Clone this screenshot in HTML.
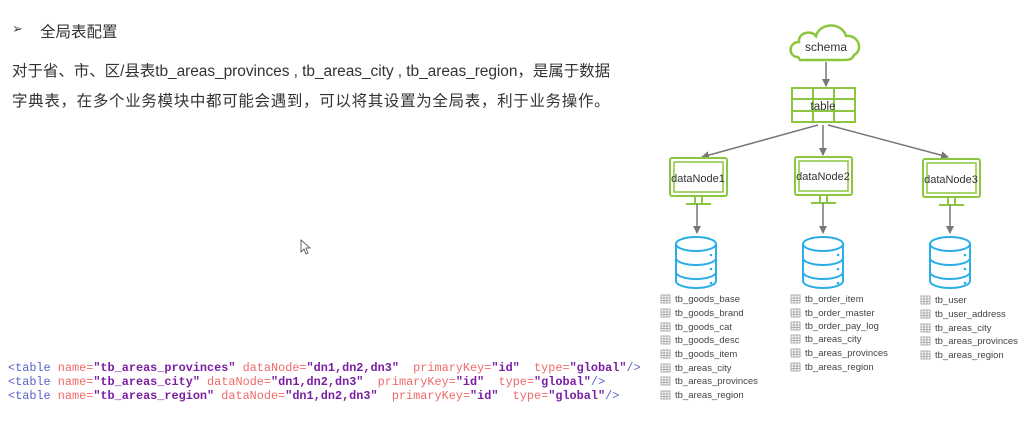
<!DOCTYPE html>
<html><head><meta charset="utf-8"><style>
body{margin:0;background:#fff;width:1024px;height:428px;overflow:hidden;position:relative;font-family:"Liberation Sans","Noto Sans CJK SC",sans-serif;color:#333}
.t{position:absolute;white-space:nowrap}
.code{position:absolute;left:8px;font-family:"Liberation Mono",monospace;font-size:11.85px;white-space:pre;color:#f06a6a}
.b{color:#5a63c8}.p{color:#7a1fa2;font-weight:bold}
</style></head><body>
<div class="t" style="left:12px;top:21px;font-size:13px;color:#444">➢</div>
<div class="t" style="left:40px;top:20px;font-size:15.5px">全局表配置</div>
<div class="t" style="left:12px;top:59px;font-size:15.5px;letter-spacing:-0.06px">对于省、市、区/县表tb_areas_provinces , tb_areas_city , tb_areas_region，是属于数据</div>
<div class="t" style="left:12px;top:89px;font-size:15.5px;letter-spacing:0.67px">字典表，在多个业务模块中都可能会遇到，可以将其设置为全局表，利于业务操作。</div>
<div class="code" style="top:361px"><span class="b">&lt;table</span> name=<span class="p">"tb_areas_provinces"</span> dataNode=<span class="p">"dn1,dn2,dn3"</span>  primaryKey=<span class="p">"id"</span>  type=<span class="p">"global"</span><span class="b">/&gt;</span></div>
<div class="code" style="top:375px"><span class="b">&lt;table</span> name=<span class="p">"tb_areas_city"</span> dataNode=<span class="p">"dn1,dn2,dn3"</span>  primaryKey=<span class="p">"id"</span>  type=<span class="p">"global"</span><span class="b">/&gt;</span></div>
<div class="code" style="top:389px"><span class="b">&lt;table</span> name=<span class="p">"tb_areas_region"</span> dataNode=<span class="p">"dn1,dn2,dn3"</span>  primaryKey=<span class="p">"id"</span>  type=<span class="p">"global"</span><span class="b">/&gt;</span></div>
<svg width="1024" height="428" style="position:absolute;left:0;top:0" font-family="Liberation Sans,sans-serif">
<defs>
<marker id="a" markerWidth="8" markerHeight="8" refX="7" refY="4" orient="auto" markerUnits="userSpaceOnUse"><path d="M0,0L8,4L0,8z" fill="#777"/></marker>
<g id="mon"><rect x="0" y="0" width="57" height="38" rx="2" fill="#fff" stroke="#8cc63f" stroke-width="2"/><rect x="4" y="4" width="49" height="30" fill="none" stroke="#8cc63f" stroke-width="1.5"/><path d="M25,38v8M32,38v8M16,46h25" stroke="#8cc63f" stroke-width="2" fill="none"/></g>
<g id="db" fill="none" stroke="#29aee8" stroke-width="2"><ellipse cx="20" cy="8" rx="20" ry="7"/><path d="M0,8v37a20,7 0 0 0 40,0v-37M0,22a20,7 0 0 0 40,0M0,36a20,7 0 0 0 40,0"/><circle cx="35" cy="19" r="1.3" fill="#29aee8" stroke="none"/><circle cx="35" cy="33" r="1.3" fill="#29aee8" stroke="none"/><circle cx="35" cy="47" r="1.3" fill="#29aee8" stroke="none"/></g>
<g id="ic" fill="#fff" stroke="#999" stroke-width="0.8"><rect x="0" y="0" width="9" height="8"/><path d="M0,3h9M0,5.5h9M3,0v8M6,0v8"/></g>
</defs>
<path d="M798,57 C788,57 788,42 799,42 C798,32 812,30 816,36 C820,22 842,22 846,36 C858,34 864,50 854,55 C852,60 848,60 844,60 L800,60 Z" fill="#fff" stroke="#8cc63f" stroke-width="2.5"/>
<text x="826" y="51" font-size="12" text-anchor="middle" fill="#333">schema</text>
<line x1="826" y1="62" x2="826" y2="86" stroke="#777" stroke-width="1.5" marker-end="url(#a)"/>
<g stroke="#8cc63f" stroke-width="2" fill="#fff"><rect x="792" y="88" width="63" height="34"/><path d="M792,99h63M792,111h63M813,88v34M834,88v34" fill="none"/></g>
<text x="823" y="110" font-size="11.5" text-anchor="middle" fill="#333">table</text>
<g stroke="#777" stroke-width="1.5" marker-end="url(#a)"><line x1="818" y1="125" x2="702" y2="157"/><line x1="823" y1="125" x2="823" y2="155"/><line x1="828" y1="125" x2="948" y2="157"/></g>
<use href="#mon" x="670" y="158"/><use href="#mon" x="795" y="157"/><use href="#mon" x="923" y="159"/>
<g font-size="11" fill="#333"><text x="698" y="182" text-anchor="middle">dataNode1</text><text x="823" y="180" text-anchor="middle">dataNode2</text><text x="951" y="183" text-anchor="middle">dataNode3</text></g>
<g stroke="#777" stroke-width="1.5" marker-end="url(#a)"><line x1="697" y1="204" x2="697" y2="233"/><line x1="823" y1="203" x2="823" y2="233"/><line x1="950" y1="205" x2="950" y2="233"/></g>
<use href="#db" x="676" y="236"/><use href="#db" x="803" y="236"/><use href="#db" x="930" y="236"/>
<g font-size="9.5" fill="#444">
<use href="#ic" x="661" y="295"/><text x="675" y="302">tb_goods_base</text>
<use href="#ic" x="661" y="309"/><text x="675" y="316">tb_goods_brand</text>
<use href="#ic" x="661" y="323"/><text x="675" y="330">tb_goods_cat</text>
<use href="#ic" x="661" y="336"/><text x="675" y="343">tb_goods_desc</text>
<use href="#ic" x="661" y="350"/><text x="675" y="357">tb_goods_item</text>
<use href="#ic" x="661" y="364"/><text x="675" y="371">tb_areas_city</text>
<use href="#ic" x="661" y="377"/><text x="675" y="384">tb_areas_provinces</text>
<use href="#ic" x="661" y="391"/><text x="675" y="398">tb_areas_region</text>
<use href="#ic" x="791" y="295"/><text x="805" y="302">tb_order_item</text>
<use href="#ic" x="791" y="309"/><text x="805" y="316">tb_order_master</text>
<use href="#ic" x="791" y="322"/><text x="805" y="329">tb_order_pay_log</text>
<use href="#ic" x="791" y="335"/><text x="805" y="342">tb_areas_city</text>
<use href="#ic" x="791" y="349"/><text x="805" y="356">tb_areas_provinces</text>
<use href="#ic" x="791" y="363"/><text x="805" y="370">tb_areas_region</text>
<use href="#ic" x="921" y="296"/><text x="935" y="303">tb_user</text>
<use href="#ic" x="921" y="310"/><text x="935" y="317">tb_user_address</text>
<use href="#ic" x="921" y="324"/><text x="935" y="331">tb_areas_city</text>
<use href="#ic" x="921" y="337"/><text x="935" y="344">tb_areas_provinces</text>
<use href="#ic" x="921" y="351"/><text x="935" y="358">tb_areas_region</text>
</g>
<path d="M301,240 L301,252 L304,249 L306,254 L308,253 L306,248 L310,248 Z" fill="#fff" stroke="#444" stroke-width="0.8"/>
</svg>
</body></html>
